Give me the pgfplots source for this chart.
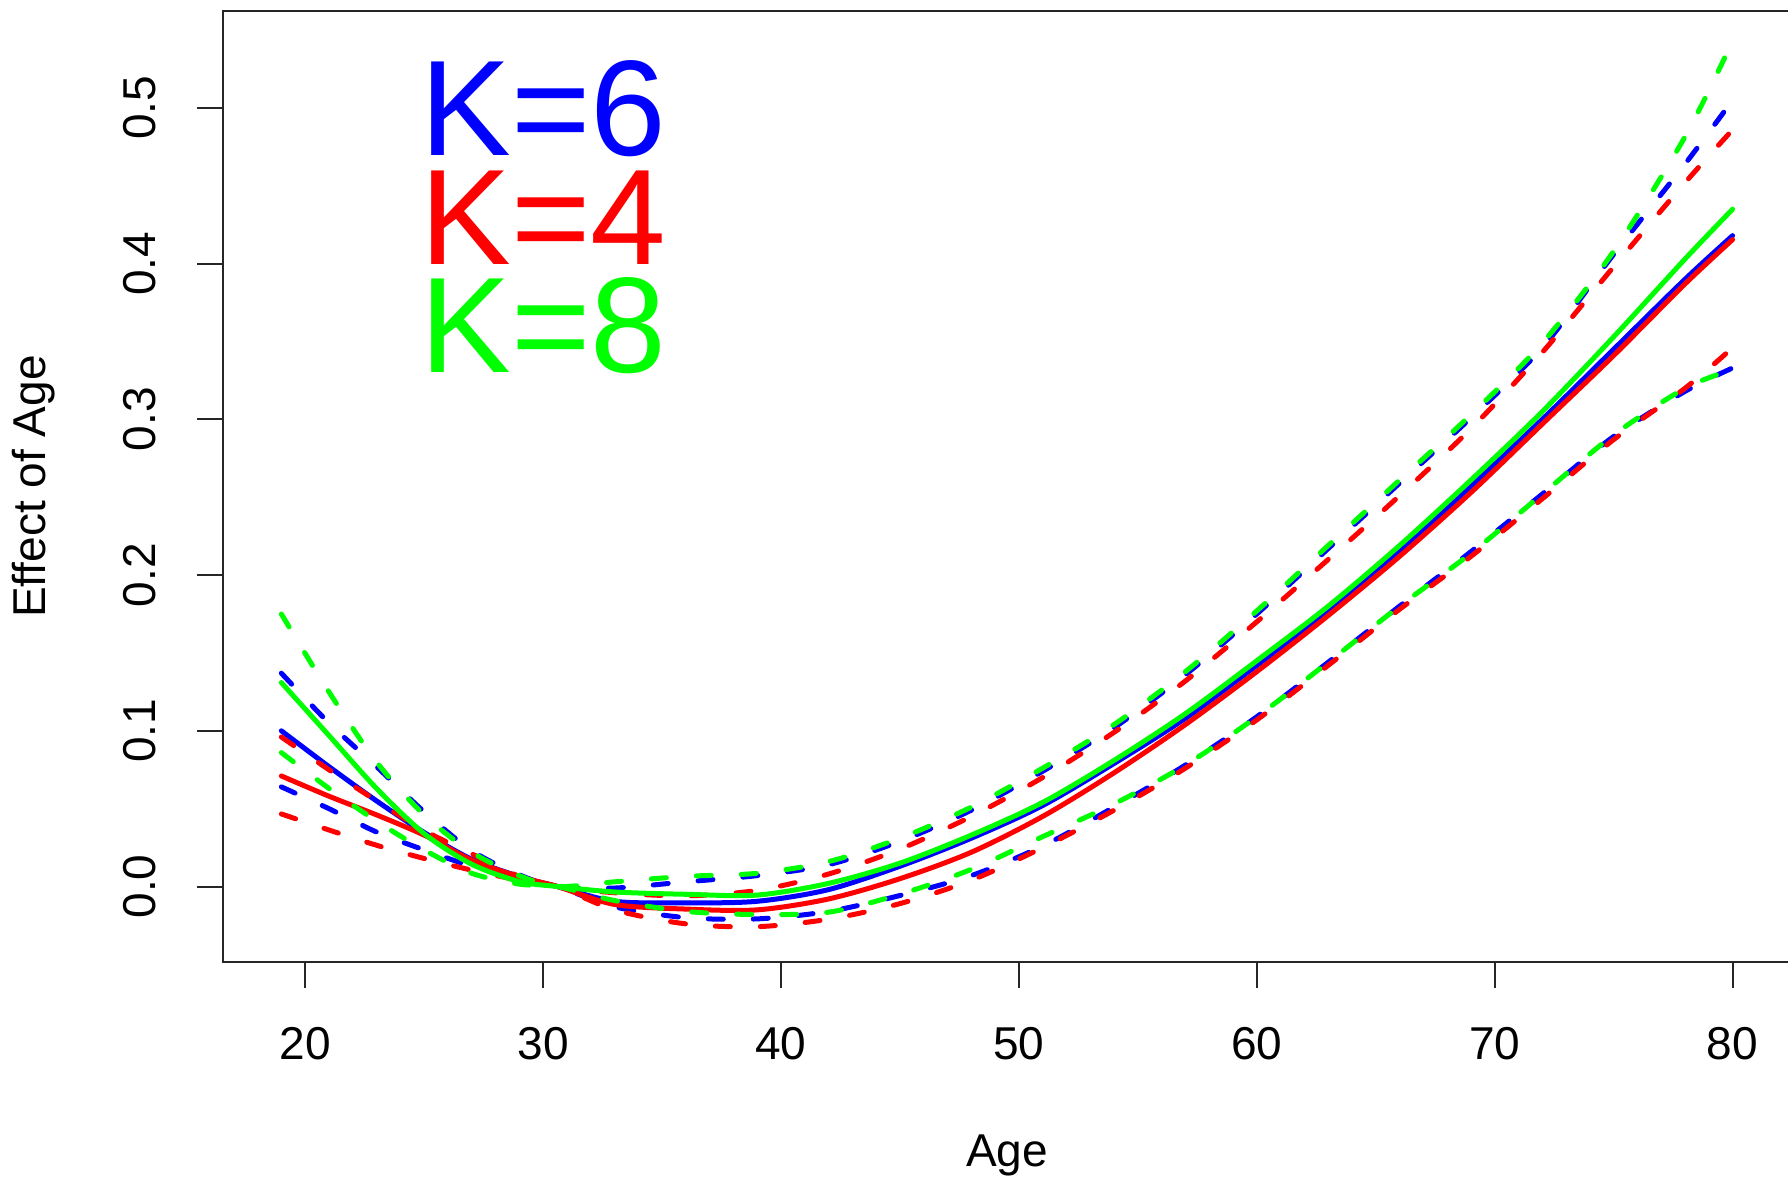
\documentclass[border=0pt]{standalone}
\usepackage{fontspec}
\setmainfont{Liberation Sans}
\usepackage{pgfplots}
\usepackage{pgfplotstable}
\pgfplotsset{compat=1.18}
\usetikzlibrary{calc}
\definecolor{rblue}{RGB}{0,0,255}
\definecolor{rred}{RGB}{255,0,0}
\definecolor{rgreen}{RGB}{0,255,0}
\pgfplotstableread{
x     bf      bu      bl      rf      ru      rl      gf      gu      gl
19    0.100   0.137   0.064   0.071   0.096   0.0466  0.131   0.175   0.086
21    0.077   0.105   0.050   0.058   0.075   0.0363  0.097   0.125   0.063
23    0.055   0.077   0.035   0.046   0.055   0.0265  0.063   0.080   0.042
25    0.0347  0.048   0.0235  0.033   0.036   0.018   0.034   0.046   0.0235
27    0.0175  0.023   0.013   0.017   0.021   0.0105  0.0143  0.022   0.0085
29    0.0064  0.0075  0.0045  0.0063  0.0065  0.004   0.0032  0.007   0.0015
30.6  0       0       0       0       0       0       0       0       0
33   -0.0095 -0.001  -0.013  -0.0115 -0.004  -0.015  -0.0035  0.003  -0.009
36   -0.0105  0.003  -0.020  -0.0145 -0.006  -0.024  -0.005   0.0065 -0.016
39   -0.0095  0.007  -0.0208 -0.015  -0.0025 -0.0258 -0.0055  0.0085 -0.018
42   -0.002   0.014  -0.016  -0.008   0.008  -0.021   0.002   0.016  -0.0165
45    0.013   0.029  -0.0058  0.005   0.024  -0.011   0.015   0.031  -0.005
48    0.031   0.049   0.007   0.022   0.045   0.004   0.033   0.051   0.011
51    0.052   0.074   0.026   0.045   0.070   0.025   0.054   0.076   0.032
54    0.079   0.102   0.051   0.073   0.099   0.049   0.081   0.104   0.053
57    0.108   0.136   0.078   0.104   0.132   0.076   0.111   0.138   0.078
60    0.142   0.175   0.109   0.138   0.170   0.107   0.145   0.177   0.109
63    0.177   0.217   0.144   0.174   0.210   0.142   0.180   0.219   0.144
66    0.215   0.259   0.180   0.212   0.251   0.178   0.219   0.261   0.180
69    0.257   0.301   0.215   0.253   0.294   0.212   0.261   0.303   0.214
72    0.300   0.346   0.252   0.297   0.343   0.249   0.305   0.349   0.252
75    0.345   0.406   0.289   0.341   0.398   0.287   0.353   0.408   0.290
78    0.390   0.464   0.318   0.387   0.452   0.320   0.403   0.4815  0.320
80    0.418   0.505   0.333   0.4155  0.486   0.346   0.435   0.543   0.332
}\agedata
\pgfplotsset{
  fitline/.style={line width=0.05cm, line cap=round, smooth},
  ciline/.style={line width=0.05cm, line cap=round, smooth, dash pattern=on 0.15cm off 0.30cm},
}
\begin{document}
\begin{tikzpicture}
\path[use as bounding box] (0,0) rectangle (17.88cm,11.80cm);
\begin{axis}[
  at={(2.233cm,2.18cm)}, anchor=south west,
  scale only axis, width=15.673cm, height=9.51cm,
  xmin=16.56, xmax=82.44, ymin=-0.0485, ymax=0.5623,
  clip mode=individual,
  axis line style={line width=0.02cm, black!85},
  every tick/.style={line width=0.02cm, black!85},
  tick align=outside, tick pos=left, major tick length=0.26cm,
  xtick={20,30,40,50,60,70,80},
  ytick={0,0.1,0.2,0.3,0.4,0.5},
  yticklabels={0.0,0.1,0.2,0.3,0.4,0.5},
  /pgf/number format/assume math mode=true,
  tick label style={font=\fontsize{13.1}{15}\selectfont},
  xticklabel style={anchor=north, inner sep=0pt},
  yticklabel style={rotate=90, anchor=south, inner sep=0pt},
  xticklabel shift=0.385cm,
  yticklabel shift=0.408cm,
  no marks,
]
\addplot[rblue, fitline] table[x=x,y=bf]{\agedata};
\addplot[rblue, ciline] table[x=x,y=bu]{\agedata};
\addplot[rblue, ciline] table[x=x,y=bl]{\agedata};
\addplot[rred, fitline] table[x=x,y=rf]{\agedata};
\addplot[rred, ciline] table[x=x,y=ru]{\agedata};
\addplot[rred, ciline] table[x=x,y=rl]{\agedata};
\addplot[rgreen, fitline] table[x=x,y=gf]{\agedata};
\addplot[rgreen, ciline] table[x=x,y=gu]{\agedata};
\addplot[rgreen, ciline] table[x=x,y=gl]{\agedata};
\node[anchor=base west, inner sep=0pt, text=rblue, font=\fontsize{38.7}{40}\selectfont] at (axis cs:24.82,0.4692) {K=6};
\node[anchor=base west, inner sep=0pt, text=rred, font=\fontsize{38.7}{40}\selectfont] at (axis cs:24.82,0.3992) {K=4};
\node[anchor=base west, inner sep=0pt, text=rgreen, font=\fontsize{38.7}{40}\selectfont] at (axis cs:24.82,0.3298) {K=8};
\coordinate (bmid) at (axis description cs:0.5,0);
\coordinate (lmid) at (axis description cs:0,0.5);
\end{axis}
\node[anchor=center, inner sep=0pt, font=\fontsize{13.1}{15}\selectfont] at ($(bmid)+(0,-1.935cm)$) {Age};
\node[anchor=center, inner sep=0pt, rotate=90, font=\fontsize{13.1}{15}\selectfont] at ($(lmid)+(-1.90cm,0)$) {Effect of Age};
\end{tikzpicture}
\end{document}
